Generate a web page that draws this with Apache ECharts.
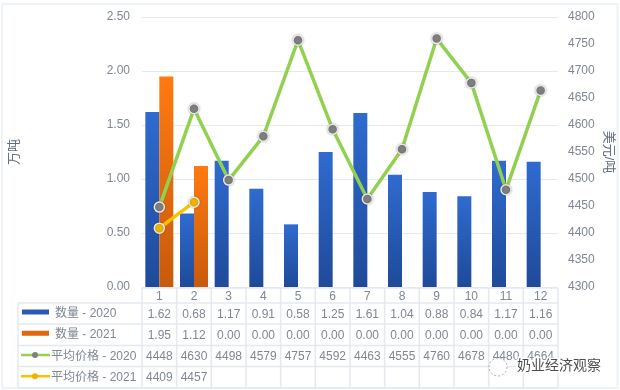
<!DOCTYPE html>
<html><head><meta charset="utf-8">
<style>html,body{margin:0;padding:0;background:#fff}#c{width:620px;height:390px}</style>
<script src="https://cdn.jsdelivr.net/npm/echarts@6/dist/echarts.min.js"></script>
</head><body><div id="c"></div>
<script>
const months=['1','2','3','4','5','6','7','8','9','10','11','12'];
const qty2020=[1.62,0.68,1.17,0.91,0.58,1.25,1.61,1.04,0.88,0.84,1.17,1.16];
const qty2021=[1.95,1.12,0,0,0,0,0,0,0,0,0,0];
const price2020=[4448,4630,4498,4579,4757,4592,4463,4555,4760,4678,4480,4664];
const price2021=[4409,4457,null,null,null,null,null,null,null,null,null,null];
const names=['数量 - 2020','数量 - 2021','平均价格 - 2020','平均价格 - 2021'];
const FONT='"Liberation Sans","Noto Sans CJK SC",sans-serif';
const TXT='#7f8794', LINE='#e4e8f0';
const L=142,R=558,T=17,B=287,TL=18;
const rows=[288,303,324,345.5,366.5,388];
const chart=echarts.init(document.getElementById('c'),null,{renderer:'canvas'});
const cw=(R-L)/12;
const g=[];
g.push({type:'rect',shape:{x:2,y:4,width:615.5,height:384},silent:true,z:-1,style:{fill:'#fff',stroke:'#eef3f8',lineWidth:2}});
const hl=(x1,x2,y)=>g.push({type:'line',shape:{x1,y1:y,x2,y2:y},style:{stroke:LINE,lineWidth:1.5},silent:true});
const vl=(x,y1,y2)=>g.push({type:'line',shape:{x1:x,y1,x2:x,y2},style:{stroke:LINE,lineWidth:1.5},silent:true});
rows.forEach((y,i)=>hl(i===0?L:TL,R,y));
for(let i=0;i<=12;i++)vl(L+i*cw,rows[0],rows[5]);
vl(TL,rows[1],rows[5]);
const cell=(x,y,t,align,size)=>g.push({type:'text',x,y:y+.7,silent:true,style:{text:t,fill:TXT,font:(size||12)+'px '+FONT,align:align||'center',verticalAlign:'middle'}});
const grad=(a,b)=>new echarts.graphic.LinearGradient(0,0,0,1,[{offset:0,color:a},{offset:1,color:b}]);
const rowData=[qty2020.map(v=>v.toFixed(2)),qty2021.map(v=>v.toFixed(2)),price2020.map(String),price2021.map(v=>v===null?'':String(v))];
months.forEach((m,i)=>cell(L+(i+.5)*cw,296,m));
rowData.forEach((r,ri)=>{
  const y=(rows[ri+1]+rows[ri+2])/2;
  r.forEach((t,i)=>{if(t)cell(L+(i+.5)*cw,y,t)});
  if(ri<2){
    g.push({type:'rect',shape:{x:22,y:y-4,width:27,height:5},silent:true,style:{fill:ri?'#e0670f':'#2a5cb5'}});
    cell(55,y-.5,names[ri],'left');
  }else{
    const c=ri===2?'#92d050':'#ffc000', d=ri===2?'#7f7f7f':'#eeb400';
    g.push({type:'line',shape:{x1:21,y1:y-1,x2:50,y2:y-1},silent:true,style:{stroke:c,lineWidth:2.5}});
    g.push({type:'circle',shape:{cx:35,cy:y-1,r:3},silent:true,style:{fill:d}});
    cell(51,y,names[ri],'left');
  }
});
g.push({type:'circle',shape:{cx:498,cy:367,r:9},silent:true,z:100,style:{fill:'#fff',stroke:'#aaa',lineWidth:1,lineDash:[2,2]}});
g.push({type:'text',x:517,y:365,silent:true,z:101,style:{text:'奶业经济观察',fill:'#4d4d4d',stroke:'#fff',lineWidth:3,font:'14px "Noto Sans CJK SC",sans-serif',align:'left',verticalAlign:'middle'}});
const lineSeries=(name,data,color,dot)=>({name,type:'line',yAxisIndex:1,data,symbol:'circle',symbolSize:10,connectNulls:false,z:5,
  lineStyle:{color,width:3.5},itemStyle:{color:dot,borderColor:'#e8e8e8',borderWidth:1.5,shadowColor:'rgba(0,0,0,.25)',shadowBlur:2}});
chart.setOption({
  animation:false,backgroundColor:'#fff',
  textStyle:{fontFamily:FONT},
  grid:{left:L,right:620-R,top:T,bottom:390-B,containLabel:false,outerBoundsMode:'none'},
  xAxis:{type:'category',data:months,axisLine:{show:false},axisTick:{show:false},axisLabel:{show:false},splitLine:{show:false}},
  yAxis:[
    {type:'value',min:0,max:2.5,interval:0.5,name:'万吨',nameLocation:'middle',nameGap:121,nameRotate:90,nameMoveOverlap:false,
     nameTextStyle:{color:'#5f6b7c',fontSize:13},
     axisLine:{show:false},axisTick:{show:false},
     axisLabel:{color:TXT,fontSize:12,margin:12,formatter:v=>v.toFixed(2)},
     splitLine:{lineStyle:{color:LINE,width:1}}},
    {type:'value',min:4300,max:4800,interval:50,name:'美元/吨',nameLocation:'middle',nameGap:44,nameRotate:-90,nameMoveOverlap:false,
     nameTextStyle:{color:'#5f6b7c',fontSize:13},
     axisLine:{show:false},axisTick:{show:false},
     axisLabel:{color:TXT,fontSize:12,margin:10,formatter:v=>String(v)},
     splitLine:{show:false}}
  ],
  series:[
    {name:names[0],type:'bar',data:qty2020,barWidth:14,barGap:'0%',itemStyle:{color:grad('#2f6bd0','#1f4a98')}},
    {name:names[1],type:'bar',data:qty2021,barWidth:14,itemStyle:{color:grad('#ff7a10','#c85a0c')}},
    lineSeries(names[2],price2020,'#92d050','#7f7f7f'),
    lineSeries(names[3],price2021,'#ffc000','#eeb400')
  ],
  graphic:g
});
</script></body></html>
